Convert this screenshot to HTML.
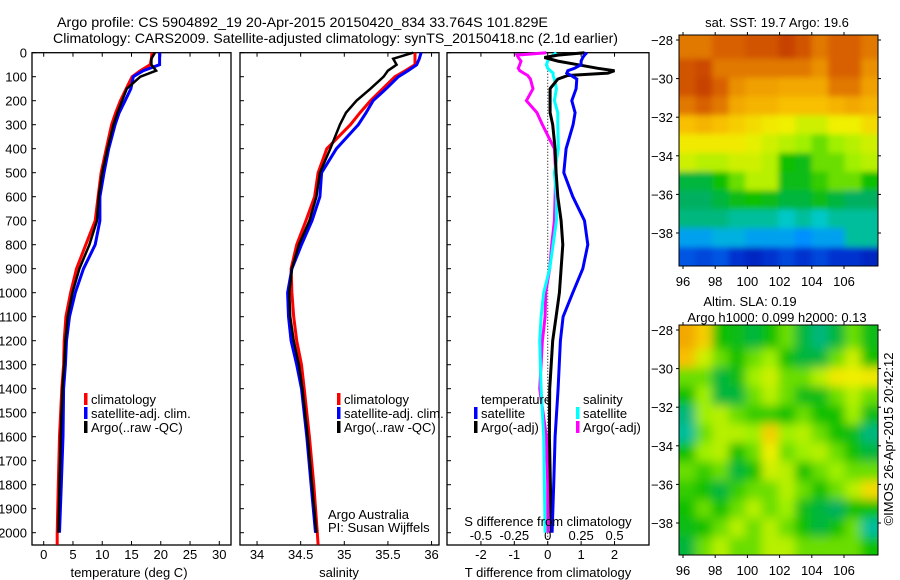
<!DOCTYPE html>
<html><head><meta charset="utf-8">
<style>
html,body{margin:0;padding:0;background:#fff;}
svg{display:block;font-family:"Liberation Sans",sans-serif;}
text{fill:#000;}
</style></head>
<body>
<svg id="chart" width="900" height="580" viewBox="0 0 900 580" xmlns="http://www.w3.org/2000/svg">
<rect width="900" height="580" fill="#fff"/>
<text x="57" y="27" font-size="14" textLength="491" lengthAdjust="spacingAndGlyphs">Argo profile: CS 5904892_19 20-Apr-2015 20150420_834 33.764S 101.829E</text>
<text x="53" y="43" font-size="14" textLength="565" lengthAdjust="spacingAndGlyphs">Climatology: CARS2009. Satellite-adjusted climatology: synTS_20150418.nc (2.1d earlier)</text>
<g id="g"></g>
</svg>
<script>
// ---- profile data ----
const depths = [0,25,50,75,100,150,200,250,300,400,500,600,700,800,900,1000,1100,1200,1300,1400,1600,1800,2000,2050];
const tempClim = [18.5,18.4,18.2,16.5,15.1,14.1,13.1,12.3,11.6,10.7,9.8,9.3,8.8,7.2,5.6,4.6,3.8,3.5,3.4,3.1,2.7,2.5,2.3,2.3];
const tempSat  = [19.8,19.8,19.8,17.0,15.3,14.9,13.9,12.9,12.2,11.1,10.3,9.6,9.6,8.8,6.8,5.4,4.4,3.9,3.7,3.4,3.3,3.0,2.7,2.7];
const tempArgo = [19.0,18.4,18.4,19.2,16.5,14.2,13.4,12.6,11.9,10.9,10.0,9.4,9.1,7.8,6.1,4.9,4.1,3.7,3.5,3.2,2.9,2.7,2.5,2.5];
const salClim = [35.81,35.81,35.81,35.7,35.58,35.44,35.3,35.18,35.07,34.8,34.70,34.66,34.56,34.455,34.39,34.40,34.42,34.455,34.51,34.54,34.60,34.65,34.69,34.70];
const salSat  = [35.88,35.86,35.83,35.73,35.62,35.48,35.33,35.25,35.16,34.91,34.74,34.72,34.63,34.51,34.40,34.35,34.36,34.39,34.455,34.51,34.57,34.62,34.67,34.67];
const salArgo = [35.79,35.56,35.6,35.5,35.45,35.3,35.14,35.02,34.95,34.84,34.72,34.68,34.6,34.48,34.40,34.37,34.38,34.42,34.48,34.52,34.58,34.63,34.68,34.68];
const diffDepths = [0,10,20,35,50,65,75,85,95,110,150,200,250,300,400,500,600,700,800,900,1000,1100,1200,1400,1600,1800,2000];
const dTsat  = [1.17,1.1,1.05,1.0,1.0,0.8,0.6,0.57,0.7,0.87,0.85,0.72,0.82,0.76,0.55,0.48,0.75,1.1,1.2,1.05,0.75,0.46,0.38,0.31,0.22,0.18,0.13];
const dTargo = [1.1,0.3,-0.1,0.3,0.9,1.5,2.0,1.8,0.6,0.3,0.07,0.07,0.07,0.15,0.22,0.25,0.3,0.4,0.45,0.4,0.35,0.25,0.15,0.06,0.05,0.08,0.1];
const dSsat  = [0.065,0.04,0.015,0.0,-0.01,0.0,0.02,0.04,0.04,0.05,0.065,0.05,0.075,0.075,0.08,0.05,0.065,0.065,0.04,0.015,-0.03,-0.05,-0.06,-0.05,-0.03,-0.025,-0.02];
const dSargo = [-0.01,-0.23,-0.22,-0.2,-0.21,-0.22,-0.21,-0.18,-0.15,-0.13,-0.11,-0.16,-0.08,-0.04,0.05,0.06,0.055,0.05,0.03,0.015,-0.015,-0.02,-0.04,-0.06,-0.01,0.0,0.0];
const depthTicks = [0,100,200,300,400,500,600,700,800,900,1000,1100,1200,1300,1400,1500,1600,1700,1800,1900,2000];
const tempTicks = [0,5,10,15,20,25,30];
const salTicks = [34,34.5,35,35.5,36];
const salTickLabels = ["34","34.5","35","35.5","36"];
const dTTicks = [-2,-1,0,1,2];
const dSTicks = [-0.5,-0.25,0,0.25,0.5];
const dSTickLabels = ["-0.5","-0.25","0","0.25","0.5"];
// ---- map data (colormap index 0..1), rows north->south ----
const sstGrid = [
[0.85,0.85,0.88,0.88,0.9,0.9,0.93,0.9,0.85,0.88,0.88,0.85],
[0.9,0.92,0.85,0.85,0.85,0.85,0.85,0.85,0.82,0.88,0.88,0.82],
[0.9,0.93,0.88,0.82,0.8,0.8,0.78,0.78,0.78,0.85,0.85,0.8],
[0.85,0.88,0.85,0.78,0.75,0.75,0.72,0.72,0.72,0.75,0.78,0.75],
[0.72,0.75,0.72,0.7,0.68,0.66,0.65,0.62,0.62,0.65,0.65,0.68],
[0.66,0.66,0.66,0.66,0.64,0.62,0.6,0.58,0.55,0.58,0.6,0.62],
[0.62,0.6,0.6,0.62,0.62,0.6,0.5,0.48,0.55,0.55,0.58,0.6],
[0.45,0.45,0.5,0.55,0.6,0.6,0.48,0.48,0.52,0.55,0.55,0.5],
[0.42,0.42,0.45,0.48,0.5,0.48,0.45,0.45,0.48,0.45,0.42,0.42],
[0.4,0.4,0.4,0.38,0.38,0.38,0.35,0.38,0.35,0.38,0.38,0.38],
[0.3,0.3,0.32,0.32,0.3,0.3,0.3,0.28,0.3,0.3,0.38,0.38],
[0.2,0.18,0.2,0.15,0.12,0.15,0.18,0.15,0.18,0.15,0.15,0.12]];
const slaGrid = [
[0.78,0.7,0.5,0.48,0.45,0.5,0.55,0.45,0.4,0.45,0.55,0.48],
[0.72,0.62,0.55,0.5,0.55,0.58,0.5,0.45,0.45,0.55,0.62,0.5],
[0.55,0.55,0.45,0.48,0.58,0.62,0.55,0.55,0.6,0.66,0.65,0.66],
[0.5,0.58,0.45,0.45,0.55,0.6,0.55,0.48,0.48,0.55,0.6,0.55],
[0.4,0.58,0.6,0.55,0.52,0.52,0.5,0.55,0.5,0.5,0.58,0.48],
[0.38,0.55,0.6,0.6,0.58,0.7,0.58,0.6,0.55,0.5,0.48,0.4],
[0.5,0.58,0.6,0.5,0.55,0.65,0.55,0.58,0.6,0.55,0.5,0.45],
[0.55,0.52,0.55,0.45,0.5,0.62,0.6,0.5,0.55,0.58,0.55,0.55],
[0.52,0.5,0.45,0.52,0.55,0.55,0.6,0.55,0.5,0.55,0.6,0.68],
[0.5,0.55,0.5,0.55,0.6,0.55,0.58,0.48,0.45,0.42,0.5,0.5],
[0.48,0.5,0.55,0.6,0.55,0.6,0.55,0.5,0.45,0.5,0.55,0.38],
[0.45,0.55,0.6,0.55,0.55,0.6,0.6,0.55,0.55,0.55,0.55,0.5]];
const lonTicks = [96,98,100,102,104,106];
const latTicks = [-28,-30,-32,-34,-36,-38];

const NS = "http://www.w3.org/2000/svg";
const G = document.getElementById('g');
function el(tag, attrs, parent, txt){
  const e = document.createElementNS(NS, tag);
  for (const k in attrs) e.setAttribute(k, attrs[k]);
  if (txt !== undefined) e.textContent = txt;
  (parent || G).appendChild(e);
  return e;
}
const Y0 = 52.7, Ypx = 0.24, YB = 545;
const yD = d => Y0 + d * Ypx;

function panel(name, x0, x1, xmin, xmax, showDepthLabels){
  const sx = v => x0 + (v - xmin) / (xmax - xmin) * (x1 - x0);
  const g = el('g', {});
  
  
  const r = el('rect', {x:x0, y:Y0, width:x1-x0, height:YB-Y0, fill:'none', stroke:'#000', 'stroke-width':1.3}, g);
  
  
  depthTicks.forEach(d => {
    el('line', {x1:x0, x2:x0+4, y1:yD(d), y2:yD(d), stroke:'#000'}, g);
    if (showDepthLabels){
      const t = el('text', {x:27, y:yD(d)+5, 'font-size':13, 'text-anchor':'end'}, g, String(d));
      
      
    }
  });
  return {g, sx};
}
function xTicks(p, ticks, labels, ty){
  ticks.forEach((v,i) => {
    const x = p.sx(v);
    el('line', {x1:x, x2:x, y1:YB, y2:YB-4, stroke:'#000'}, p.g);
    el('line', {x1:x, x2:x, y1:Y0, y2:Y0+4, stroke:'#000'}, p.g);
    const t = el('text', {x:x, y:ty, 'font-size':13, 'text-anchor':'middle'}, p.g, labels[i]);
    
    
  });
}
function line(p, ds, vs, color, name, w){
  const pts = ds.map((d,i) => p.sx(vs[i]).toFixed(1) + ',' + yD(d).toFixed(1)).join(' ');
  const l = el('polyline', {points:pts, fill:'none', stroke:color, 'stroke-width':w||3, 'stroke-linejoin':'miter'}, p.g);
  
  
}
function legend(p, x, y, color, label, name){
  const r = el('rect', {x:x, y:y-11, width:3.5, height:12, fill:color}, p.g);
  
  
  const t = el('text', {x:x+7, y:y, 'font-size':13}, p.g, label);
  
  
}
function label(p, x, y, s, name, anchor){
  const t = el('text', {x:x, y:y, 'font-size':13, 'text-anchor':anchor||'start'}, p.g, s);
  
  
}

// Panel 1: temperature
const p1 = panel('temperature-panel', 32, 231, -2, 32, true);
xTicks(p1, tempTicks, tempTicks.map(String), 559);
line(p1, depths, tempClim, '#ff0000', 'temp-climatology-line');
line(p1, depths.slice(0,23), tempSat.slice(0,23), '#0000ff', 'temp-satellite-line');
line(p1, depths.slice(0,23), tempArgo.slice(0,23), '#000000', 'temp-argo-line', 2.5);
label(p1, 129, 577, 'temperature (deg C)', 'temperature-axis-title', 'middle');
legend(p1, 84, 404, '#ff0000', 'climatology', 'legend-climatology');
legend(p1, 84, 418, '#0000ff', 'satellite-adj. clim.', 'legend-satellite');
legend(p1, 84, 432, '#000000', 'Argo(..raw -QC)', 'legend-argo');

// Panel 2: salinity
const p2 = panel('salinity-panel', 240, 439, 33.8046, 36.0854, false);
xTicks(p2, salTicks, salTickLabels, 559);
line(p2, depths, salClim, '#ff0000', 'sal-climatology-line');
line(p2, depths.slice(0,23), salSat.slice(0,23), '#0000ff', 'sal-satellite-line');
line(p2, depths.slice(0,23), salArgo.slice(0,23), '#000000', 'sal-argo-line', 2.5);
label(p2, 339, 577, 'salinity', 'salinity-axis-title', 'middle');
legend(p2, 337, 404, '#ff0000', 'climatology', 'legend-climatology-2');
legend(p2, 337, 418, '#0000ff', 'satellite-adj. clim.', 'legend-satellite-2');
legend(p2, 337, 432, '#000000', 'Argo(..raw -QC)', 'legend-argo-2');
label(p2, 328, 519, 'Argo Australia', 'credit-argo-australia');
label(p2, 328, 532, 'PI: Susan Wijffels', 'credit-pi');

// Panel 3: differences
const p3 = panel('difference-panel', 447, 649, -3.016, 3.032, false);
xTicks(p3, dTTicks, dTTicks.map(String), 559);
const pS = {g:p3.g, sx: v => p3.sx(v*4)};
dSTicks.forEach((v,i) => {
  const t = el('text', {x:pS.sx(v), y:540, 'font-size':13, 'text-anchor':'middle'}, p3.g, dSTickLabels[i]);
  
  
});
el('line', {x1:p3.sx(0), x2:p3.sx(0), y1:Y0, y2:YB, stroke:'#000', 'stroke-width':1, 'stroke-dasharray':'1,2'}, p3.g);
line(pS, diffDepths, dSargo, '#ff00ff', 's-diff-argo-line');
line(pS, diffDepths, dSsat, '#00ffff', 's-diff-satellite-line');
line(p3, diffDepths, dTargo, '#000000', 't-diff-argo-line');
line(p3, diffDepths, dTsat, '#0000ff', 't-diff-satellite-line');
label(p3, 548, 526, 'S difference from climatology', 's-diff-axis-title', 'middle');
label(p3, 548, 577, 'T difference from climatology', 't-diff-axis-title', 'middle');
label(p3, 481, 404, 'temperature', 'legend-temperature-header');
label(p3, 583, 404, 'salinity', 'legend-salinity-header');
legend(p3, 474, 418, '#0000ff', 'satellite', 'legend-t-satellite');
legend(p3, 474, 432, '#000000', 'Argo(-adj)', 'legend-t-argo');
legend(p3, 576, 418, '#00ffff', 'satellite', 'legend-s-satellite');
legend(p3, 576, 432, '#ff00ff', 'Argo(-adj)', 'legend-s-argo');

// ---- maps ----
const cmapStops = [[0,[0,0,140]],[0.15,[0,48,208]],[0.28,[0,144,255]],[0.35,[0,200,200]],[0.42,[0,176,96]],[0.5,[16,192,0]],[0.58,[160,240,0]],[0.65,[240,240,0]],[0.72,[248,192,0]],[0.8,[240,160,0]],[0.88,[216,96,0]],[1,[176,24,0]]];
function cmap(v){
  for (let i=1;i<cmapStops.length;i++){
    if (v <= cmapStops[i][0]){
      const [a,ca] = cmapStops[i-1], [b,cb] = cmapStops[i];
      const f = (v-a)/(b-a);
      return 'rgb(' + ca.map((c,j)=>Math.round(c+(cb[j]-c)*f)).join(',') + ')';
    }
  }
  return 'rgb(176,24,0)';
}
function drawMap(name, grid, top, bottom, lat28y, title, blur){
  const x0 = 679, x1 = 878;
  const g = el('g', {});
  
  
  const lonX = lon => 683 + (lon - 96) * 16.1;
  const latY = lat => lat28y + (-28 - lat) * 19.3;
  const clipId = name + '-clip';
  const defs = el('defs', {}, g);
  const cp = el('clipPath', {id:clipId}, defs);
  el('rect', {x:x0, y:top, width:x1-x0, height:bottom-top}, cp);
  const f = el('filter', {id:name+'-blur', x:'-10%', y:'-10%', width:'120%', height:'120%'}, defs);
  el('feGaussianBlur', {stdDeviation:blur}, f);
  const inner = el('g', {'clip-path':'url(#'+clipId+')'}, g);
  const cells = el('g', {filter:'url(#'+name+'-blur)'}, inner);
  const rows = grid.length, cols = grid[0].length;
  const lon0 = 95.75, lon1 = 108.1, lat0 = -28, lat1 = -39.7;
  const ext = 14;
  for (let r=0;r<rows;r++) for (let c=0;c<cols;c++){
    const la = lat0 + (lat1-lat0)*r/rows, lb = lat0 + (lat1-lat0)*(r+1)/rows;
    const lo = lon0 + (lon1-lon0)*c/cols, lp = lon0 + (lon1-lon0)*(c+1)/cols;
    let X = lonX(lo), W = lonX(lp) - X, Y = latY(la), H = latY(lb) - Y;
    if (r===0){Y -= 20; H += 20;}
    if (r===rows-1){H += 20;}
    if (c===0){X -= ext; W += ext;}
    if (c===cols-1){W += ext;}
    const cell = el('rect', {x:X.toFixed(1), y:Y.toFixed(1), width:(W+0.6).toFixed(1), height:(H+0.6).toFixed(1), fill:cmap(grid[r][c])}, cells);
    
    
  }
  el('rect', {x:x0, y:top, width:x1-x0, height:bottom-top, fill:'none', stroke:'#000', 'stroke-width':1}, g);
  lonTicks.forEach(l => {
    const x = lonX(l);
    el('line', {x1:x, x2:x, y1:bottom, y2:bottom+3, stroke:'#000'}, g);
    el('line', {x1:x, x2:x, y1:top, y2:top-3, stroke:'#000'}, g);
    const t = el('text', {x:x, y:bottom+20, 'font-size':13, 'text-anchor':'middle'}, g, String(l));
    
    
  });
  latTicks.forEach(l => {
    const y = latY(l);
    el('line', {x1:x0, x2:x0-3, y1:y, y2:y, stroke:'#000'}, g);
    el('line', {x1:x1, x2:x1+3, y1:y, y2:y, stroke:'#000'}, g);
    const t = el('text', {x:673, y:y+5, 'font-size':13, 'text-anchor':'end'}, g, String(l).replace('-','\u2212'));
    
    
  });
  title.forEach((s,i) => {
    const t = el('text', {x:s[1], y:s[2], 'font-size':13, 'text-anchor':'middle'}, g, s[0]);
    
    
  });
}
drawMap('sst-map', sstGrid, 35, 266, 40, [['sat. SST: 19.7 Argo: 19.6', 777, 27]], 3);
drawMap('sla-map', slaGrid, 325, 555, 330, [['Altim. SLA: 0.19', 750, 306], ['Argo h1000: 0.099 h2000: 0.13', 777, 322]], 5);
const cr = el('text', {x:0, y:0, 'font-size':13, 'text-anchor':'middle', transform:'translate(893,439) rotate(-90)'}, G, '\u00A9IMOS 26-Apr-2015 20:42:12');


</script>
</body></html>
